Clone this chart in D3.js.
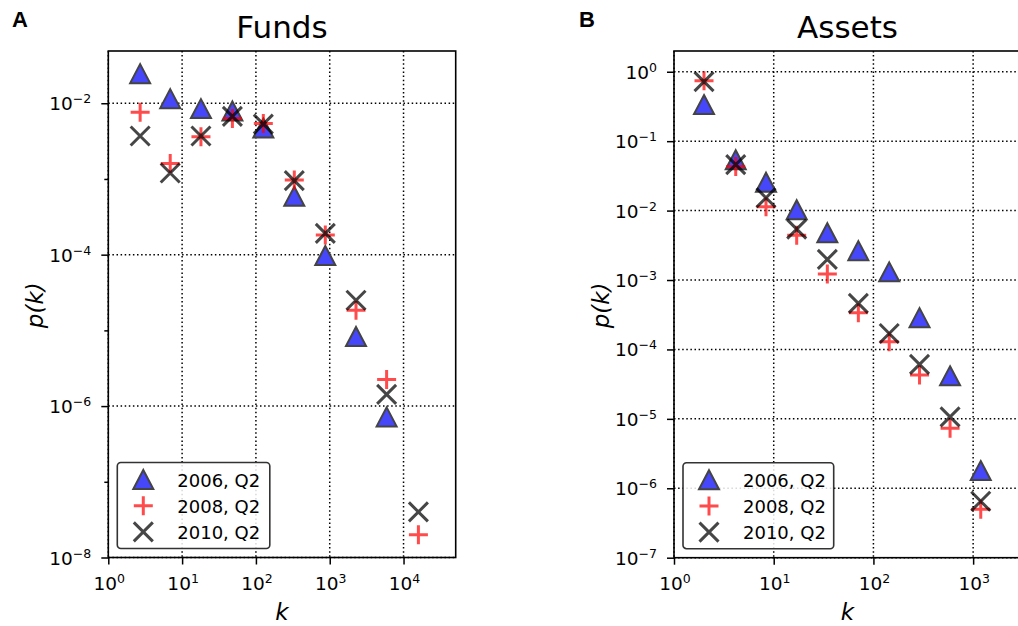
<!DOCTYPE html>
<html>
<head>
<meta charset="utf-8">
<script src="https://cdn.jsdelivr.net/npm/d3@7"></script>
<style>
  body { margin: 0; background: #fff; }
  text { font-family: "DejaVu Sans", sans-serif; }
</style>
</head>
<body>
<script>

var width = 1018;
var height = 626;

var seriesNames = ["2006, Q2", "2008, Q2", "2010, Q2"];

var fundsK = [2.7, 6.9, 18, 48, 126, 331, 871, 2270, 5900, 15900];
var funds2006 = [0.0246, 0.0115, 0.0085, 0.0079, 0.0047, 5.9e-4, 9.75e-5, 8.3e-6, 7.2e-7, null];
var funds2008 = [0.0076, 0.0016, 0.0036, 0.0063, 0.0054, 9.7e-4, 1.82e-4, 1.85e-5, 2.25e-6, 2.0e-8];
var funds2010 = [0.0037, 0.0012, 0.0037, 0.0067, 0.0053, 9.5e-4, 1.91e-4, 2.5e-5, 1.43e-6, 4.0e-8];

var assetsK = [2, 4.16, 8.37, 17, 34.5, 70.6, 144, 290, 587, 1192];
var assets2006 = [0.337, 0.054, 0.0256, 0.0103, 0.0048, 0.00265, 0.00131, 2.87e-4, 4.17e-5, 1.8e-6];
var assets2008 = [0.74, 0.043, 0.0114, 0.0044, 0.00122, 3.37e-4, 1.29e-4, 4.27e-5, 7.3e-6, 5.0e-7];
var assets2010 = [0.72, 0.046, 0.0153, 0.0054, 0.00198, 4.6e-4, 1.7e-4, 6.1e-5, 1.07e-5, 6.5e-7];

var fundsXTicks = [1, 10, 100, 1000, 10000];
var fundsYTicks = [1e-8, 1e-6, 1e-4, 1e-2];
var fundsYMinor = [1e-7, 1e-5, 1e-3];
var assetsXTicks = [1, 10, 100, 1000];
var assetsYTicks = [1e-7, 1e-6, 1e-5, 1e-4, 1e-3, 1e-2, 1e-1, 1];

var svg = d3.select("body")
  .append("svg")
  .attr("width", width)
  .attr("height", height);

function drawMarker(g, type) {
  if (type == 0) {
    g.append("path")
      .attr("d", "M0,-9.5L10,9.5L-10,9.5Z")
      .attr("fill", "rgb(70,70,250)")
      .attr("stroke", "#444")
      .attr("stroke-width", 2)
      .attr("stroke-linejoin", "miter");
  } else if (type == 1) {
    g.attr("opacity", 0.7);
    g.append("path")
      .attr("d", "M-9.5,0H9.5M0,-9.5V9.5")
      .attr("stroke", "#ff0000")
      .attr("stroke-width", 3);
  } else {
    g.attr("opacity", 0.72);
    g.append("path")
      .attr("d", "M-9.5,-9.5L9.5,9.5M-9.5,9.5L9.5,-9.5")
      .attr("stroke", "#000")
      .attr("stroke-width", 3);
  }
}

function expLabel(sel, v) {
  var e = Math.round(Math.log10(v));
  sel.append("tspan").text("10");
  sel.append("tspan")
    .attr("dy", -7)
    .style("font-size", "12.5px")
    .text(e < 0 ? "\u2212" + (-e) : "" + e);
}

function drawPanel(p) {
  var x = d3.scaleLog().domain(p.xDomain).range([p.left, p.right]);
  var y = d3.scaleLog().domain(p.yDomain).range([p.bottom, p.top]);
  var g = svg.append("g");

  // grid
  g.selectAll(".gx").data(p.xTicks).enter().append("line")
    .attr("x1", function(d){return x(d);}).attr("x2", function(d){return x(d);})
    .attr("y1", p.top).attr("y2", p.bottom)
    .attr("stroke", "#000").attr("stroke-width", 1.5).attr("stroke-dasharray", "1.5,2.6");
  g.selectAll(".gy").data(p.yTicks).enter().append("line")
    .attr("y1", function(d){return y(d);}).attr("y2", function(d){return y(d);})
    .attr("x1", p.left).attr("x2", p.right)
    .attr("stroke", "#000").attr("stroke-width", 1.5).attr("stroke-dasharray", "1.5,2.6");

  // points
  p.series.forEach(function(vals, si) {
    var pts = vals.map(function(v, i){return [p.k[i], v];})
      .filter(function(d){return d[1] != null;});
    g.selectAll(".s" + si).data(pts).enter().append("g")
      .attr("transform", function(d){return "translate(" + x(d[0]) + "," + y(d[1]) + ")";})
      .each(function(){ drawMarker(d3.select(this), si); });
  });

  // axes
  var xa = g.append("g").attr("transform", "translate(0," + p.bottom + ")")
    .call(d3.axisBottom(x).tickValues(p.xTicks).tickSize(7).tickSizeOuter(0).tickFormat(""));
  var ya = g.append("g").attr("transform", "translate(" + p.left + ",0)")
    .call(d3.axisLeft(y).tickValues(p.yTicks).tickSize(7).tickSizeOuter(0).tickFormat(""));
  if (p.yMinor) {
    g.append("g").attr("transform", "translate(" + p.left + ",0)")
      .call(d3.axisLeft(y).tickValues(p.yMinor).tickSize(4).tickSizeOuter(0).tickFormat(""))
      .select(".domain").remove();
  }
  g.selectAll(".tick line").attr("stroke-width", 1.5);
  xa.select(".domain").remove();
  ya.select(".domain").remove();

  g.append("rect")
    .attr("x", p.left).attr("y", p.top)
    .attr("width", p.right - p.left).attr("height", p.bottom - p.top)
    .attr("fill", "none").attr("stroke", "#000").attr("stroke-width", 1.6);

  p.xTicks.forEach(function(d) {
    g.append("text").attr("x", x(d) + 1).attr("y", p.bottom + 32)
      .attr("text-anchor", "middle").style("font-size", "18.5px")
      .call(expLabel, d);
  });
  p.yTicks.forEach(function(d) {
    g.append("text").attr("x", p.left - 17).attr("y", y(d) + 7)
      .attr("text-anchor", "end").style("font-size", "18.5px")
      .call(expLabel, d);
  });

  // labels
  var cx = (p.left + p.right) / 2;
  g.append("text").attr("x", cx).attr("y", 37.5).attr("text-anchor", "middle")
    .style("font-size", "31px").text(p.title);
  g.append("text").attr("x", p.panelX).attr("y", 26.5)
    .style("font-family", "'Liberation Sans', Arial, sans-serif")
    .style("font-weight", "bold").style("font-size", "22px").text(p.panel);
  g.append("text").attr("x", cx).attr("y", 620).attr("text-anchor", "middle")
    .style("font-size", "23px").style("font-style", "italic").text("k");
  g.append("text")
    .attr("transform", "translate(" + (p.left - 65) + "," + ((p.top + p.bottom) / 2 + 1) + ") rotate(-90)")
    .attr("text-anchor", "middle")
    .style("font-size", "23px").style("font-style", "italic").text("p(k)");

  // legend
  var lx = p.left + 9, ly = p.bottom - 95;
  var lg = g.append("g").attr("transform", "translate(" + lx + "," + ly + ")");
  lg.append("rect").attr("width", p.legendW).attr("height", 86).attr("rx", 3.5)
    .attr("fill", "#fff").attr("fill-opacity", 0.85)
    .attr("stroke", "#333").attr("stroke-width", 1.6);
  seriesNames.forEach(function(name, i) {
    var row = lg.append("g").attr("transform", "translate(0," + (17 + i * 26.2) + ")");
    drawMarker(row.append("g").attr("transform", "translate(26,0)"), i);
    row.append("text").attr("x", 60).attr("y", 7).style("font-size", "18px").text(name);
  });
}

drawPanel({
  title: "Funds", panel: "A", panelX: 12,
  left: 108.3, right: 455.7, top: 51, bottom: 557.5,
  xDomain: [1, 5.09e4], yDomain: [1e-8, 0.049],
  xTicks: fundsXTicks, yTicks: fundsYTicks, yMinor: fundsYMinor,
  k: fundsK, series: [funds2006, funds2008, funds2010],
  legendW: 152.5
});

drawPanel({
  title: "Assets", panel: "B", panelX: 579,
  left: 674, right: 1021, top: 51, bottom: 557.7,
  xDomain: [1, 3020], yDomain: [1e-7, 1.99],
  xTicks: assetsXTicks, yTicks: assetsYTicks, yMinor: null,
  k: assetsK, series: [assets2006, assets2008, assets2010],
  legendW: 150.7
});

</script>
</body>
</html>
